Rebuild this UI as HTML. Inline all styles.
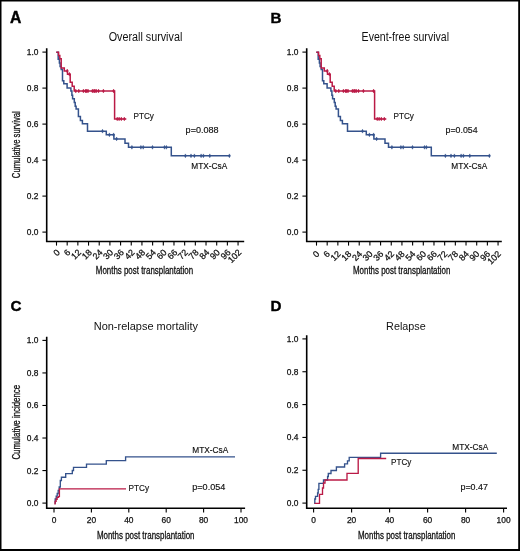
<!DOCTYPE html>
<html><head><meta charset="utf-8"><title>Survival curves</title>
<style>html,body{margin:0;padding:0;background:#fff;width:520px;height:551px;overflow:hidden}svg{display:block;will-change:transform}</style>
</head><body>
<svg width="520" height="551" viewBox="0 0 520 551" font-family='"Liberation Sans", sans-serif'>
<rect width="520" height="551" fill="#fff"/>
<text x="10.0" y="22.5" font-size="15.7" font-weight="bold" fill="#000" stroke="#000" stroke-width="0.4">A</text>
<text x="270.4" y="22.8" font-size="15.2" font-weight="bold" fill="#000" stroke="#000" stroke-width="0.4">B</text>
<text x="10.4" y="311.4" font-size="15.2" font-weight="bold" fill="#000" stroke="#000" stroke-width="0.4">C</text>
<text x="270.4" y="311.2" font-size="15.2" font-weight="bold" fill="#000" stroke="#000" stroke-width="0.4">D</text>
<g transform="translate(0,0)">
<path d="M46.7 48.2 V241.5 H244.20" fill="none" stroke="#000" stroke-width="1.6"/>
<g stroke="#000" stroke-width="1.1"><line x1="42.4" y1="52.10" x2="46" y2="52.10"/><line x1="42.4" y1="88.10" x2="46" y2="88.10"/><line x1="42.4" y1="124.10" x2="46" y2="124.10"/><line x1="42.4" y1="160.10" x2="46" y2="160.10"/><line x1="42.4" y1="196.10" x2="46" y2="196.10"/><line x1="42.4" y1="232.10" x2="46" y2="232.10"/></g>
<g font-size="8.4" text-anchor="end" fill="#111" stroke="#111" stroke-width="0.25"><text x="38.4" y="55.10">1.0</text><text x="38.4" y="91.10">0.8</text><text x="38.4" y="127.10">0.6</text><text x="38.4" y="163.10">0.4</text><text x="38.4" y="199.10">0.2</text><text x="38.4" y="235.10">0.0</text></g>
<g stroke="#000" stroke-width="1.1"><line x1="56.50" y1="241" x2="56.50" y2="245.6"/><line x1="67.18" y1="241" x2="67.18" y2="245.6"/><line x1="77.86" y1="241" x2="77.86" y2="245.6"/><line x1="88.54" y1="241" x2="88.54" y2="245.6"/><line x1="99.22" y1="241" x2="99.22" y2="245.6"/><line x1="109.90" y1="241" x2="109.90" y2="245.6"/><line x1="120.58" y1="241" x2="120.58" y2="245.6"/><line x1="131.26" y1="241" x2="131.26" y2="245.6"/><line x1="141.94" y1="241" x2="141.94" y2="245.6"/><line x1="152.62" y1="241" x2="152.62" y2="245.6"/><line x1="163.30" y1="241" x2="163.30" y2="245.6"/><line x1="173.98" y1="241" x2="173.98" y2="245.6"/><line x1="184.66" y1="241" x2="184.66" y2="245.6"/><line x1="195.34" y1="241" x2="195.34" y2="245.6"/><line x1="206.02" y1="241" x2="206.02" y2="245.6"/><line x1="216.70" y1="241" x2="216.70" y2="245.6"/><line x1="227.38" y1="241" x2="227.38" y2="245.6"/><line x1="238.06" y1="241" x2="238.06" y2="245.6"/></g>
<g font-size="8.9" text-anchor="end" fill="#111" stroke="#111" stroke-width="0.25"><text transform="translate(60.40,253.10) rotate(-45)">0</text><text transform="translate(71.08,253.10) rotate(-45)">6</text><text transform="translate(81.76,253.10) rotate(-45)">12</text><text transform="translate(92.44,253.10) rotate(-45)">18</text><text transform="translate(103.12,253.10) rotate(-45)">24</text><text transform="translate(113.80,253.10) rotate(-45)">30</text><text transform="translate(124.48,253.10) rotate(-45)">36</text><text transform="translate(135.16,253.10) rotate(-45)">42</text><text transform="translate(145.84,253.10) rotate(-45)">48</text><text transform="translate(156.52,253.10) rotate(-45)">54</text><text transform="translate(167.20,253.10) rotate(-45)">60</text><text transform="translate(177.88,253.10) rotate(-45)">66</text><text transform="translate(188.56,253.10) rotate(-45)">72</text><text transform="translate(199.24,253.10) rotate(-45)">78</text><text transform="translate(209.92,253.10) rotate(-45)">84</text><text transform="translate(220.60,253.10) rotate(-45)">90</text><text transform="translate(231.28,253.10) rotate(-45)">96</text><text transform="translate(241.96,253.10) rotate(-45)">102</text></g>
<text x="108.70" y="41.3" font-size="12" fill="#111" textLength="73.60" lengthAdjust="spacingAndGlyphs">Overall survival</text>
<text x="95.80" y="273.8" font-size="10.6" fill="#111" stroke="#111" stroke-width="0.3" textLength="97.3" lengthAdjust="spacingAndGlyphs">Months post transplantation</text>
<text transform="translate(19.5,178.2) rotate(-90)" font-size="10.8" fill="#111" stroke="#111" stroke-width="0.3" textLength="67" lengthAdjust="spacingAndGlyphs">Cumulative survival</text>
<path d="M56.30 52.20 L58.20 52.20 L58.20 59.30 L59.40 59.30 L59.40 63.00 L60.10 63.00 L60.10 66.50 L61.20 66.50 L61.20 69.60 L62.50 69.60 L62.50 80.70 L63.80 80.70 L63.80 83.80 L67.10 83.80 L67.10 87.90 L70.90 87.90 L70.90 90.90 L71.90 90.90 L71.90 95.20 L72.60 95.20 L72.60 98.80 L74.30 98.80 L74.30 102.50 L75.20 102.50 L75.20 106.30 L76.10 106.30 L76.10 109.10 L78.40 109.10 L78.40 116.60 L80.40 116.60 L80.40 120.40 L82.40 120.40 L82.40 123.70 L87.50 123.70 L87.50 131.20 L106.30 131.20 L106.30 134.80 L113.90 134.80 L113.90 138.90 L125.00 138.90 L125.00 143.20 L128.50 143.20 L128.50 147.30 L171.30 147.30 L171.30 155.80 L230.20 155.80" fill="none" stroke="#34528c" stroke-width="1.5"/>
<g fill="#34528c" stroke="#34528c" stroke-width="0.5"><path d="M102.50 129.30L103.45 131.20L102.50 133.10L101.55 131.20Z"/><path d="M109.40 132.90L110.35 134.80L109.40 136.70L108.45 134.80Z"/><path d="M113.60 132.90L114.55 134.80L113.60 136.70L112.65 134.80Z"/><path d="M116.60 137.00L117.55 138.90L116.60 140.80L115.65 138.90Z"/><path d="M131.90 145.40L132.85 147.30L131.90 149.20L130.95 147.30Z"/><path d="M140.90 145.40L141.85 147.30L140.90 149.20L139.95 147.30Z"/><path d="M143.20 145.40L144.15 147.30L143.20 149.20L142.25 147.30Z"/><path d="M152.50 145.40L153.45 147.30L152.50 149.20L151.55 147.30Z"/><path d="M164.50 145.40L165.45 147.30L164.50 149.20L163.55 147.30Z"/><path d="M166.40 145.40L167.35 147.30L166.40 149.20L165.45 147.30Z"/><path d="M185.40 153.90L186.35 155.80L185.40 157.70L184.45 155.80Z"/><path d="M191.00 153.90L191.95 155.80L191.00 157.70L190.05 155.80Z"/><path d="M194.40 153.90L195.35 155.80L194.40 157.70L193.45 155.80Z"/><path d="M201.10 153.90L202.05 155.80L201.10 157.70L200.15 155.80Z"/><path d="M203.40 153.90L204.35 155.80L203.40 157.70L202.45 155.80Z"/><path d="M209.80 153.90L210.75 155.80L209.80 157.70L208.85 155.80Z"/><path d="M229.40 153.90L230.35 155.80L229.40 157.70L228.45 155.80Z"/></g>
<path d="M56.30 52.20 L58.60 52.20 L58.60 55.50 L59.80 55.50 L59.80 58.70 L61.20 58.70 L61.20 67.90 L64.30 67.90 L64.30 70.90 L67.50 70.90 L67.50 74.20 L70.20 74.20 L70.20 82.30 L72.20 82.30 L72.20 86.30 L74.20 86.30 L74.20 91.00 L114.60 91.00 L114.60 118.95 L126.30 118.95" fill="none" stroke="#ba1a46" stroke-width="1.5"/>
<g fill="#ba1a46" stroke="#ba1a46" stroke-width="0.5"><path d="M75.80 89.10L76.75 91.00L75.80 92.90L74.85 91.00Z"/><path d="M78.80 89.10L79.75 91.00L78.80 92.90L77.85 91.00Z"/><path d="M83.40 89.10L84.35 91.00L83.40 92.90L82.45 91.00Z"/><path d="M85.50 89.10L86.45 91.00L85.50 92.90L84.55 91.00Z"/><path d="M86.70 89.10L87.65 91.00L86.70 92.90L85.75 91.00Z"/><path d="M88.00 89.10L88.95 91.00L88.00 92.90L87.05 91.00Z"/><path d="M92.40 89.10L93.35 91.00L92.40 92.90L91.45 91.00Z"/><path d="M94.00 89.10L94.95 91.00L94.00 92.90L93.05 91.00Z"/><path d="M94.90 89.10L95.85 91.00L94.90 92.90L93.95 91.00Z"/><path d="M96.20 89.10L97.15 91.00L96.20 92.90L95.25 91.00Z"/><path d="M98.50 89.10L99.45 91.00L98.50 92.90L97.55 91.00Z"/><path d="M103.40 89.10L104.35 91.00L103.40 92.90L102.45 91.00Z"/><path d="M113.60 89.10L114.55 91.00L113.60 92.90L112.65 91.00Z"/><path d="M117.20 117.05L118.15 118.95L117.20 120.85L116.25 118.95Z"/><path d="M119.10 117.05L120.05 118.95L119.10 120.85L118.15 118.95Z"/><path d="M121.30 117.05L122.25 118.95L121.30 120.85L120.35 118.95Z"/><path d="M124.30 117.05L125.25 118.95L124.30 120.85L123.35 118.95Z"/><path d="M67.20 69.00L68.15 70.90L67.20 72.80L66.25 70.90Z"/><path d="M69.40 72.30L70.35 74.20L69.40 76.10L68.45 74.20Z"/></g>
<text x="133.5" y="119.1" font-size="8.5" fill="#111" stroke="#111" stroke-width="0.15" textLength="20.4" lengthAdjust="spacingAndGlyphs">PTCy</text>
<text x="185.6" y="132.9" font-size="8.5" fill="#111" stroke="#111" stroke-width="0.15" textLength="33.0" lengthAdjust="spacingAndGlyphs">p=0.088</text>
<text x="191.3" y="169.4" font-size="8.3" fill="#111" stroke="#111" stroke-width="0.15">MTX-CsA</text>
</g>
<g transform="translate(260,0)">
<path d="M46.7 48.2 V241.5 H241.80" fill="none" stroke="#000" stroke-width="1.6"/>
<g stroke="#000" stroke-width="1.1"><line x1="42.4" y1="52.10" x2="46" y2="52.10"/><line x1="42.4" y1="88.10" x2="46" y2="88.10"/><line x1="42.4" y1="124.10" x2="46" y2="124.10"/><line x1="42.4" y1="160.10" x2="46" y2="160.10"/><line x1="42.4" y1="196.10" x2="46" y2="196.10"/><line x1="42.4" y1="232.10" x2="46" y2="232.10"/></g>
<g font-size="8.4" text-anchor="end" fill="#111" stroke="#111" stroke-width="0.25"><text x="38.4" y="55.10">1.0</text><text x="38.4" y="91.10">0.8</text><text x="38.4" y="127.10">0.6</text><text x="38.4" y="163.10">0.4</text><text x="38.4" y="199.10">0.2</text><text x="38.4" y="235.10">0.0</text></g>
<g stroke="#000" stroke-width="1.1"><line x1="56.50" y1="241" x2="56.50" y2="245.6"/><line x1="67.18" y1="241" x2="67.18" y2="245.6"/><line x1="77.86" y1="241" x2="77.86" y2="245.6"/><line x1="88.54" y1="241" x2="88.54" y2="245.6"/><line x1="99.22" y1="241" x2="99.22" y2="245.6"/><line x1="109.90" y1="241" x2="109.90" y2="245.6"/><line x1="120.58" y1="241" x2="120.58" y2="245.6"/><line x1="131.26" y1="241" x2="131.26" y2="245.6"/><line x1="141.94" y1="241" x2="141.94" y2="245.6"/><line x1="152.62" y1="241" x2="152.62" y2="245.6"/><line x1="163.30" y1="241" x2="163.30" y2="245.6"/><line x1="173.98" y1="241" x2="173.98" y2="245.6"/><line x1="184.66" y1="241" x2="184.66" y2="245.6"/><line x1="195.34" y1="241" x2="195.34" y2="245.6"/><line x1="206.02" y1="241" x2="206.02" y2="245.6"/><line x1="216.70" y1="241" x2="216.70" y2="245.6"/><line x1="227.38" y1="241" x2="227.38" y2="245.6"/><line x1="238.06" y1="241" x2="238.06" y2="245.6"/></g>
<g font-size="8.9" text-anchor="end" fill="#111" stroke="#111" stroke-width="0.25"><text transform="translate(59.90,254.60) rotate(-45)">0</text><text transform="translate(70.58,254.60) rotate(-45)">6</text><text transform="translate(81.26,254.60) rotate(-45)">12</text><text transform="translate(91.94,254.60) rotate(-45)">18</text><text transform="translate(102.62,254.60) rotate(-45)">24</text><text transform="translate(113.30,254.60) rotate(-45)">30</text><text transform="translate(123.98,254.60) rotate(-45)">36</text><text transform="translate(134.66,254.60) rotate(-45)">42</text><text transform="translate(145.34,254.60) rotate(-45)">48</text><text transform="translate(156.02,254.60) rotate(-45)">54</text><text transform="translate(166.70,254.60) rotate(-45)">60</text><text transform="translate(177.38,254.60) rotate(-45)">66</text><text transform="translate(188.06,254.60) rotate(-45)">72</text><text transform="translate(198.74,254.60) rotate(-45)">78</text><text transform="translate(209.42,254.60) rotate(-45)">84</text><text transform="translate(220.10,254.60) rotate(-45)">90</text><text transform="translate(230.78,254.60) rotate(-45)">96</text><text transform="translate(241.46,254.60) rotate(-45)">102</text></g>
<text x="101.60" y="41.3" font-size="12" fill="#111" textLength="87.40" lengthAdjust="spacingAndGlyphs">Event-free survival</text>
<text x="93.00" y="273.8" font-size="10.6" fill="#111" stroke="#111" stroke-width="0.3" textLength="97.3" lengthAdjust="spacingAndGlyphs">Months post transplantation</text>
<path d="M56.30 52.20 L58.20 52.20 L58.20 59.30 L59.40 59.30 L59.40 63.00 L60.10 63.00 L60.10 66.50 L61.20 66.50 L61.20 69.60 L62.50 69.60 L62.50 80.70 L63.80 80.70 L63.80 83.80 L67.10 83.80 L67.10 87.90 L70.90 87.90 L70.90 90.90 L71.90 90.90 L71.90 95.20 L72.60 95.20 L72.60 98.80 L74.30 98.80 L74.30 102.50 L75.20 102.50 L75.20 106.30 L76.10 106.30 L76.10 109.10 L78.40 109.10 L78.40 116.60 L80.40 116.60 L80.40 120.40 L82.40 120.40 L82.40 123.70 L87.50 123.70 L87.50 131.20 L106.30 131.20 L106.30 134.80 L113.90 134.80 L113.90 138.90 L125.00 138.90 L125.00 143.20 L128.50 143.20 L128.50 147.30 L171.30 147.30 L171.30 155.80 L230.20 155.80" fill="none" stroke="#34528c" stroke-width="1.5"/>
<g fill="#34528c" stroke="#34528c" stroke-width="0.5"><path d="M102.50 129.30L103.45 131.20L102.50 133.10L101.55 131.20Z"/><path d="M109.40 132.90L110.35 134.80L109.40 136.70L108.45 134.80Z"/><path d="M113.60 132.90L114.55 134.80L113.60 136.70L112.65 134.80Z"/><path d="M116.60 137.00L117.55 138.90L116.60 140.80L115.65 138.90Z"/><path d="M131.90 145.40L132.85 147.30L131.90 149.20L130.95 147.30Z"/><path d="M140.90 145.40L141.85 147.30L140.90 149.20L139.95 147.30Z"/><path d="M143.20 145.40L144.15 147.30L143.20 149.20L142.25 147.30Z"/><path d="M152.50 145.40L153.45 147.30L152.50 149.20L151.55 147.30Z"/><path d="M164.50 145.40L165.45 147.30L164.50 149.20L163.55 147.30Z"/><path d="M166.40 145.40L167.35 147.30L166.40 149.20L165.45 147.30Z"/><path d="M185.40 153.90L186.35 155.80L185.40 157.70L184.45 155.80Z"/><path d="M191.00 153.90L191.95 155.80L191.00 157.70L190.05 155.80Z"/><path d="M194.40 153.90L195.35 155.80L194.40 157.70L193.45 155.80Z"/><path d="M201.10 153.90L202.05 155.80L201.10 157.70L200.15 155.80Z"/><path d="M203.40 153.90L204.35 155.80L203.40 157.70L202.45 155.80Z"/><path d="M209.80 153.90L210.75 155.80L209.80 157.70L208.85 155.80Z"/><path d="M229.40 153.90L230.35 155.80L229.40 157.70L228.45 155.80Z"/></g>
<path d="M56.30 52.20 L58.60 52.20 L58.60 55.50 L59.80 55.50 L59.80 58.70 L61.20 58.70 L61.20 67.90 L64.30 67.90 L64.30 70.90 L67.50 70.90 L67.50 74.20 L70.20 74.20 L70.20 82.30 L72.20 82.30 L72.20 86.30 L74.20 86.30 L74.20 91.00 L114.60 91.00 L114.60 118.95 L126.30 118.95" fill="none" stroke="#ba1a46" stroke-width="1.5"/>
<g fill="#ba1a46" stroke="#ba1a46" stroke-width="0.5"><path d="M75.80 89.10L76.75 91.00L75.80 92.90L74.85 91.00Z"/><path d="M78.80 89.10L79.75 91.00L78.80 92.90L77.85 91.00Z"/><path d="M83.40 89.10L84.35 91.00L83.40 92.90L82.45 91.00Z"/><path d="M85.50 89.10L86.45 91.00L85.50 92.90L84.55 91.00Z"/><path d="M86.70 89.10L87.65 91.00L86.70 92.90L85.75 91.00Z"/><path d="M88.00 89.10L88.95 91.00L88.00 92.90L87.05 91.00Z"/><path d="M92.40 89.10L93.35 91.00L92.40 92.90L91.45 91.00Z"/><path d="M94.00 89.10L94.95 91.00L94.00 92.90L93.05 91.00Z"/><path d="M94.90 89.10L95.85 91.00L94.90 92.90L93.95 91.00Z"/><path d="M96.20 89.10L97.15 91.00L96.20 92.90L95.25 91.00Z"/><path d="M98.50 89.10L99.45 91.00L98.50 92.90L97.55 91.00Z"/><path d="M103.40 89.10L104.35 91.00L103.40 92.90L102.45 91.00Z"/><path d="M113.60 89.10L114.55 91.00L113.60 92.90L112.65 91.00Z"/><path d="M117.20 117.05L118.15 118.95L117.20 120.85L116.25 118.95Z"/><path d="M119.10 117.05L120.05 118.95L119.10 120.85L118.15 118.95Z"/><path d="M121.30 117.05L122.25 118.95L121.30 120.85L120.35 118.95Z"/><path d="M124.30 117.05L125.25 118.95L124.30 120.85L123.35 118.95Z"/><path d="M67.20 69.00L68.15 70.90L67.20 72.80L66.25 70.90Z"/><path d="M69.40 72.30L70.35 74.20L69.40 76.10L68.45 74.20Z"/></g>
<text x="133.5" y="119.1" font-size="8.5" fill="#111" stroke="#111" stroke-width="0.15" textLength="20.4" lengthAdjust="spacingAndGlyphs">PTCy</text>
<text x="185.6" y="132.9" font-size="8.5" fill="#111" stroke="#111" stroke-width="0.15" textLength="32.0" lengthAdjust="spacingAndGlyphs">p=0.054</text>
<text x="191.3" y="169.4" font-size="8.3" fill="#111" stroke="#111" stroke-width="0.15">MTX-CsA</text>
</g>
<path d="M46.70 336.70 V508.3 H245.10" fill="none" stroke="#000" stroke-width="1.6"/>
<g stroke="#000" stroke-width="1.1"><line x1="42.40" y1="340.40" x2="46.00" y2="340.40"/><line x1="42.40" y1="372.94" x2="46.00" y2="372.94"/><line x1="42.40" y1="405.48" x2="46.00" y2="405.48"/><line x1="42.40" y1="438.02" x2="46.00" y2="438.02"/><line x1="42.40" y1="470.56" x2="46.00" y2="470.56"/><line x1="42.40" y1="503.10" x2="46.00" y2="503.10"/></g>
<g font-size="8.4" text-anchor="end" fill="#111" stroke="#111" stroke-width="0.25"><text x="38.40" y="343.40">1.0</text><text x="38.40" y="375.94">0.8</text><text x="38.40" y="408.48">0.6</text><text x="38.40" y="441.02">0.4</text><text x="38.40" y="473.56">0.2</text><text x="38.40" y="506.10">0.0</text></g>
<g stroke="#000" stroke-width="1.1"><line x1="54.00" y1="508" x2="54.00" y2="512.4"/><line x1="91.40" y1="508" x2="91.40" y2="512.4"/><line x1="128.80" y1="508" x2="128.80" y2="512.4"/><line x1="166.20" y1="508" x2="166.20" y2="512.4"/><line x1="203.60" y1="508" x2="203.60" y2="512.4"/><line x1="241.00" y1="508" x2="241.00" y2="512.4"/></g>
<g font-size="8.4" text-anchor="middle" fill="#111" stroke="#111" stroke-width="0.25"><text x="54.00" y="522.6">0</text><text x="91.40" y="522.6">20</text><text x="128.80" y="522.6">40</text><text x="166.20" y="522.6">60</text><text x="203.60" y="522.6">80</text><text x="241.00" y="522.6">100</text></g>
<text x="93.75" y="330.0" font-size="11.2" fill="#111" textLength="104.25" lengthAdjust="spacingAndGlyphs">Non-relapse mortality</text>
<text x="96.90" y="538.5" font-size="10.6" fill="#111" stroke="#111" stroke-width="0.3" textLength="97.60" lengthAdjust="spacingAndGlyphs">Months post transplantation</text>
<text transform="translate(19.5,459.6) rotate(-90)" font-size="10.8" fill="#111" stroke="#111" stroke-width="0.3" textLength="74.7" lengthAdjust="spacingAndGlyphs">Cumulative incidence</text>
<path d="M306.70 335.20 V508.3 H507.00" fill="none" stroke="#000" stroke-width="1.6"/>
<g stroke="#000" stroke-width="1.1"><line x1="302.40" y1="338.90" x2="306.00" y2="338.90"/><line x1="302.40" y1="371.74" x2="306.00" y2="371.74"/><line x1="302.40" y1="404.58" x2="306.00" y2="404.58"/><line x1="302.40" y1="437.42" x2="306.00" y2="437.42"/><line x1="302.40" y1="470.26" x2="306.00" y2="470.26"/><line x1="302.40" y1="503.10" x2="306.00" y2="503.10"/></g>
<g font-size="8.4" text-anchor="end" fill="#111" stroke="#111" stroke-width="0.25"><text x="298.40" y="341.90">1.0</text><text x="298.40" y="374.74">0.8</text><text x="298.40" y="407.58">0.6</text><text x="298.40" y="440.42">0.4</text><text x="298.40" y="473.26">0.2</text><text x="298.40" y="506.10">0.0</text></g>
<g stroke="#000" stroke-width="1.1"><line x1="313.60" y1="508" x2="313.60" y2="512.4"/><line x1="351.60" y1="508" x2="351.60" y2="512.4"/><line x1="389.60" y1="508" x2="389.60" y2="512.4"/><line x1="427.60" y1="508" x2="427.60" y2="512.4"/><line x1="465.60" y1="508" x2="465.60" y2="512.4"/><line x1="503.60" y1="508" x2="503.60" y2="512.4"/></g>
<g font-size="8.4" text-anchor="middle" fill="#111" stroke="#111" stroke-width="0.25"><text x="313.60" y="522.6">0</text><text x="351.60" y="522.6">20</text><text x="389.60" y="522.6">40</text><text x="427.60" y="522.6">60</text><text x="465.60" y="522.6">80</text><text x="503.60" y="522.6">100</text></g>
<text x="386.10" y="329.6" font-size="11.2" fill="#111" textLength="39.60" lengthAdjust="spacingAndGlyphs">Relapse</text>
<text x="358.00" y="538.5" font-size="10.6" fill="#111" stroke="#111" stroke-width="0.3" textLength="97.40" lengthAdjust="spacingAndGlyphs">Months post transplantation</text>
<path d="M54.60 503.00 L55.20 503.00 L55.20 498.80 L56.20 498.80 L56.20 496.10 L57.20 496.10 L57.20 493.50 L58.20 493.50 L58.20 490.30 L59.20 490.30 L59.20 487.00 L60.30 487.00 L60.30 480.50 L61.40 480.50 L61.40 477.20 L65.70 477.20 L65.70 473.60 L72.30 473.60 L72.30 470.50 L73.50 470.50 L73.50 467.30 L86.50 467.30 L86.50 464.10 L106.30 464.10 L106.30 460.60 L125.60 460.60 L125.60 456.80 L235.00 456.80" fill="none" stroke="#34528c" stroke-width="1.35"/>
<path d="M54.30 503.80 L55.10 503.80 L55.10 501.30 L56.10 501.30 L56.10 499.30 L57.10 499.30 L57.10 497.30 L58.30 497.30 L58.30 496.60 L59.40 496.60 L59.40 488.80 L126.00 488.80" fill="none" stroke="#ba1a46" stroke-width="1.35"/>
<text x="128.6" y="490.8" font-size="8.5" fill="#111" stroke="#111" stroke-width="0.15" textLength="20.6" lengthAdjust="spacingAndGlyphs">PTCy</text>
<text x="192.3" y="489.6" font-size="8.5" fill="#111" stroke="#111" stroke-width="0.15" textLength="33.0" lengthAdjust="spacingAndGlyphs">p=0.054</text>
<text x="192.3" y="452.5" font-size="8.3" fill="#111" stroke="#111" stroke-width="0.15">MTX-CsA</text>
<path d="M314.20 503.40 L314.80 503.40 L314.80 499.00 L315.50 499.00 L315.50 496.40 L317.60 496.40 L317.60 493.00 L318.20 493.00 L318.20 489.40 L318.90 489.40 L318.90 483.40 L323.50 483.40 L323.50 480.00 L327.60 480.00 L327.60 476.50 L328.30 476.50 L328.30 473.50 L331.00 473.50 L331.00 470.50 L336.40 470.50 L336.40 467.00 L344.60 467.00 L344.60 463.80 L347.50 463.80 L347.50 460.80 L349.20 460.80 L349.20 457.30 L380.60 457.30 L380.60 453.20 L496.80 453.20" fill="none" stroke="#34528c" stroke-width="1.35"/>
<path d="M314.60 503.40 L319.50 503.40 L319.50 494.40 L322.50 494.40 L322.50 488.00 L323.50 488.00 L323.50 483.00 L325.00 483.00 L325.00 480.00 L347.00 480.00 L347.00 473.40 L358.20 473.40 L358.20 458.50 L386.20 458.50" fill="none" stroke="#ba1a46" stroke-width="1.35"/>
<text x="391.0" y="464.5" font-size="8.5" fill="#111" stroke="#111" stroke-width="0.15" textLength="20.3" lengthAdjust="spacingAndGlyphs">PTCy</text>
<text x="460.5" y="489.5" font-size="8.5" fill="#111" stroke="#111" stroke-width="0.15" textLength="27.4" lengthAdjust="spacingAndGlyphs">p=0.47</text>
<text x="452.3" y="449.5" font-size="8.3" fill="#111" stroke="#111" stroke-width="0.15">MTX-CsA</text>
<g fill="#000"><rect x="0" y="0" width="520" height="1.5"/><rect x="0" y="0" width="1.5" height="551"/><rect x="518.2" y="0" width="1.8" height="551"/><rect x="0" y="549" width="520" height="2"/></g>
</svg>
</body></html>
